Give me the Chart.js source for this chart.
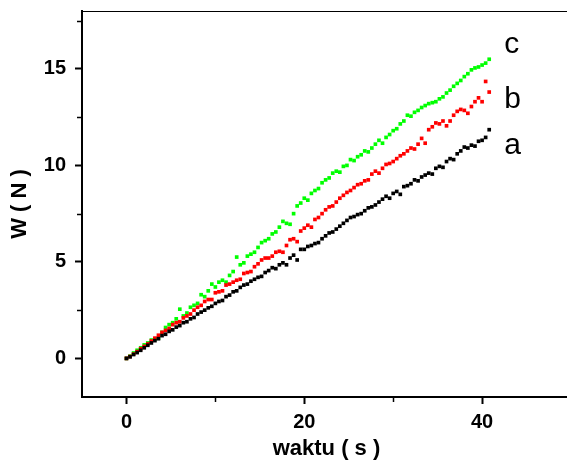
<!DOCTYPE html>
<html lang="id">
<head>
<meta charset="UTF-8">
<title>W vs waktu</title>
<script src="https://cdn.jsdelivr.net/npm/chart.js"></script>
<style>
  html, body { margin: 0; padding: 0; background: #fff; overflow: hidden; }
  .chart-container { width: 571px; height: 461px; }
</style>
</head>
<body>
<div class="chart-container">
  <canvas id="wChart"></canvas>
</div>
<script>
// waktu (s)
const waktu = [
  0.0, 0.4, 0.8, 1.2, 1.6, 2.0, 2.4, 2.8, 3.2, 3.6,
  4.0, 4.4, 4.8, 5.2, 5.6, 6.0, 6.4, 6.8, 7.2, 7.6,
  8.0, 8.4, 8.8, 9.2, 9.6, 10.0, 10.4, 10.8, 11.2, 11.6,
  12.0, 12.4, 12.8, 13.2, 13.6, 14.0, 14.4, 14.8, 15.2, 15.6,
  16.0, 16.4, 16.8, 17.2, 17.6, 18.0, 18.4, 18.8, 19.2, 19.6,
  20.0, 20.4, 20.8, 21.2, 21.6, 22.0, 22.4, 22.8, 23.2, 23.6,
  24.0, 24.4, 24.8, 25.2, 25.6, 26.0, 26.4, 26.8, 27.2, 27.6,
  28.0, 28.4, 28.8, 29.2, 29.6, 30.0, 30.4, 30.8, 31.2, 31.6,
  32.0, 32.4, 32.8, 33.2, 33.6, 34.0, 34.4, 34.8, 35.2, 35.6,
  36.0, 36.4, 36.8, 37.2, 37.6, 38.0, 38.4, 38.8, 39.2, 39.6,
  40.0, 40.4, 40.8
];

// W (N) for each curve
const wA = [
  0, 0.08, 0.2, 0.3, 0.42, 0.55, 0.68, 0.8, 0.92, 1.02,
  1.18, 1.25, 1.4, 1.48, 1.62, 1.7, 1.85, 1.9, 2.05, 2.12,
  2.3, 2.4, 2.5, 2.62, 2.7, 2.85, 2.95, 3.0, 3.2, 3.28,
  3.45, 3.5, 3.68, 3.8, 3.85, 4.0, 4.1, 4.2, 4.25, 4.45,
  4.55, 4.7, 4.65, 4.85, 4.95, 4.85, 5.2, 5.35, 5.1, 5.65,
  5.65, 5.8, 5.85, 5.95, 6.0, 6.2, 6.35, 6.5, 6.55, 6.7,
  6.85, 7.0, 7.15, 7.3, 7.35, 7.45, 7.5, 7.65, 7.8, 7.85,
  7.95, 8.1, 8.25, 8.4, 8.3, 8.55, 8.65, 8.5, 8.9, 8.95,
  9.05, 9.25, 9.2, 9.4, 9.5, 9.6, 9.55, 9.85, 9.95, 9.9,
  10.2, 10.35, 10.3, 10.6, 10.75, 10.95, 10.9, 11.05, 11.0, 11.25,
  11.3, 11.45, 11.85
];
const wB = [
  0, 0.1, 0.22, 0.35, 0.5, 0.62, 0.75, 0.9, 1.05, 1.2,
  1.35, 1.45, 1.55, 1.75, 1.85, 1.9, 2.1, 2.2, 2.3, 2.5,
  2.65, 2.75, 2.95, 3.05, 3.05, 3.4, 3.45, 3.5, 3.8, 3.85,
  3.95, 4.05, 4.1, 4.4, 4.45, 4.5, 4.75, 4.9, 5.1, 5.2,
  5.2, 5.3, 5.5, 5.55, 5.5, 5.85, 6.15, 6.2, 6.05, 6.6,
  6.75, 6.9, 6.8, 7.2, 7.3, 7.5, 7.7, 7.85, 7.9, 8.1,
  8.3, 8.45, 8.6, 8.7, 8.85, 9.0, 9.05, 9.2, 9.25, 9.55,
  9.7, 9.6, 9.85, 10.05, 10.1, 10.2, 10.35, 10.5, 10.6, 10.75,
  10.9, 10.85, 11.1, 11.4, 11.15, 11.85, 12.0, 12.2, 12.15, 12.3,
  12.05, 12.3, 12.6, 12.8, 12.9, 12.85, 12.7, 13.05, 13.3, 13.5,
  13.3, 14.35, 13.8
];
const wC = [
  0, 0.12, 0.28, 0.42, 0.55, 0.7, 0.8, 0.95, 1.0, 1.05,
  1.35, 1.6, 1.75, 1.85, 2.05, 2.55, 2.2, 2.35, 2.65, 2.75,
  2.85, 3.3, 3.2, 3.5, 3.85, 3.7, 3.95, 4.05, 3.95, 4.3,
  4.5, 5.25, 4.85, 4.95, 5.3, 5.4, 5.5, 5.75, 6.0, 6.1,
  6.2, 6.45, 6.55, 6.8, 7.1, 7.0, 6.95, 7.5, 7.9, 8.05,
  8.3, 8.2, 8.55, 8.7, 8.8, 9.1, 9.25, 9.35, 9.6, 9.7,
  9.65, 9.95, 10.0, 10.3, 10.25, 10.45, 10.55, 10.75, 10.7, 10.9,
  11.1, 11.3, 11.15, 11.45, 11.6, 11.8, 11.9, 12.15, 12.3, 12.6,
  12.55, 12.75, 12.85, 13.0, 13.1, 13.2, 13.25, 13.3, 13.45, 13.55,
  13.75, 13.9, 14.1, 14.25, 14.4, 14.6, 14.75, 14.95, 15.05, 15.1,
  15.2, 15.3, 15.5
];

const seriesNames = ['a', 'b', 'c'];
const seriesColors = ['#000000', '#ff0000', '#00ff00'];
const xTicks = [0, 20, 40];
const xMinorTicks = [10, 30];
const yTicks = [0, 5, 10, 15];
const yMinorTicks = [-2.5, 2.5, 7.5, 12.5, 17.5];

const FONT = "'Liberation Sans', Arial, Helvetica, sans-serif";

const toPoints = ys => ys.map((y, i) => ({ x: waktu[i], y: y }));

// frame top line, minor ticks and the a/b/c labels
const extras = {
  id: 'extras',
  afterDraw(chart) {
    const ctx = chart.ctx;
    const { left, right, top, bottom } = chart.chartArea;
    const xs = chart.scales.x, ys = chart.scales.y;
    ctx.save();
    ctx.strokeStyle = '#000';
    ctx.lineWidth = 1;
    ctx.beginPath();
    ctx.moveTo(left, top + 0.5);
    ctx.lineTo(right + 2, top + 0.5);
    ctx.stroke();

    ctx.lineWidth = 1.5;
    xMinorTicks.forEach(v => {
      const px = Math.round(xs.getPixelForValue(v)) + 0.5;
      ctx.beginPath();
      ctx.moveTo(px, bottom);
      ctx.lineTo(px, bottom + 5);
      ctx.stroke();
    });
    yMinorTicks.forEach(v => {
      if (v < ys.min || v > ys.max) return;
      const py = Math.round(ys.getPixelForValue(v)) + 0.5;
      ctx.beginPath();
      ctx.moveTo(left, py);
      ctx.lineTo(left - 5, py);
      ctx.stroke();
    });

    // curve labels
    const labelAt = [[42.5, 10.6], [42.5, 13.0], [42.5, 15.8]];
    ctx.fillStyle = '#000';
    ctx.font = '30px ' + FONT;
    ctx.textAlign = 'left';
    ctx.textBaseline = 'alphabetic';
    seriesNames.forEach((name, i) => {
      ctx.fillText(name, xs.getPixelForValue(labelAt[i][0]), ys.getPixelForValue(labelAt[i][1]));
    });
    ctx.restore();
  }
};

new Chart(document.getElementById('wChart').getContext('2d'), {
  type: 'scatter',
  data: {
    datasets: [wA, wB, wC].map((ys, i) => ({
      label: seriesNames[i],
      data: toPoints(ys),
      backgroundColor: seriesColors[i],
      borderColor: seriesColors[i],
      borderWidth: 0,
      pointStyle: 'rect',
      pointRadius: 2.6,
      pointHoverRadius: 2.6
    }))
  },
  options: {
    responsive: true,
    maintainAspectRatio: false,
    animation: false,
    events: [],
    layout: { padding: { top: 11, right: 0, left: 0, bottom: 0 }, autoPadding: false },
    plugins: {
      legend: { display: false },
      tooltip: { enabled: false }
    },
    scales: {
      x: {
        type: 'linear',
        min: -5,
        max: 50,
        afterBuildTicks: s => { s.ticks = xTicks.map(v => ({ value: v })); },
        afterFit: s => { s.height = 64; s.paddingLeft = 0; s.paddingRight = 0; },
        grid: { drawOnChartArea: false, drawTicks: true, tickLength: 7, tickWidth: 2, tickColor: '#000' },
        border: { display: true, color: '#000', width: 2 },
        ticks: {
          color: '#000',
          padding: 6,
          maxRotation: 0,
          font: { family: FONT, size: 20, weight: 'bold' }
        },
        title: {
          display: true,
          text: 'waktu ( s )',
          color: '#000',
          padding: { top: 0, bottom: 0 },
          font: { family: FONT, size: 22, weight: 'bold', lineHeight: 1.1 }
        }
      },
      y: {
        type: 'linear',
        min: -2,
        max: 18,
        afterBuildTicks: s => { s.ticks = yTicks.map(v => ({ value: v })); },
        afterFit: s => { s.width = 82; s.paddingTop = 0; s.paddingBottom = 0; },
        grid: { drawOnChartArea: false, drawTicks: true, tickLength: 7, tickWidth: 2, tickColor: '#000' },
        border: { display: true, color: '#000', width: 2 },
        ticks: {
          color: '#000',
          padding: 9,
          font: { family: FONT, size: 20, weight: 'bold' }
        },
        title: {
          display: true,
          text: 'W ( N )',
          color: '#000',
          padding: { top: 8, bottom: 0 },
          font: { family: FONT, size: 22, weight: 'bold', lineHeight: 1.1 }
        }
      }
    }
  },
  plugins: [extras]
});
</script>
</body>
</html>
